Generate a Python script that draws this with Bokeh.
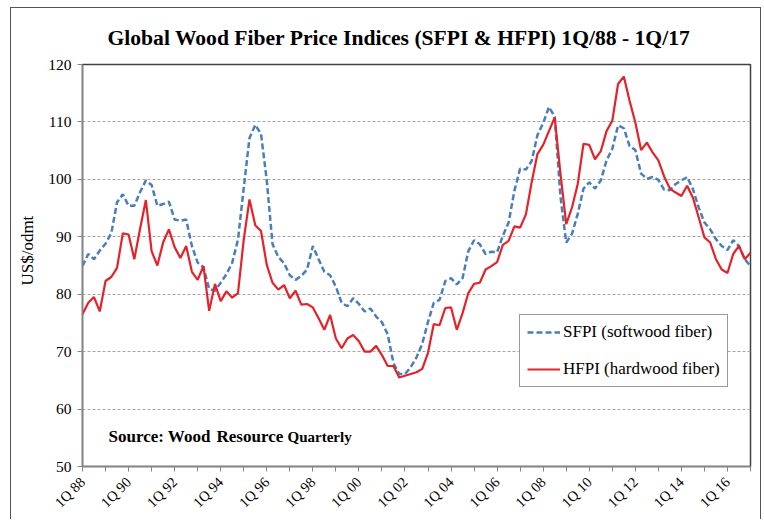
import math
from bokeh.plotting import figure
from bokeh.models import Range1d, FixedTicker, Legend, LegendItem, Label
from bokeh.embed import file_html
from bokeh.resources import INLINE

# quarter index 0 = 1Q88 ... 116 = 1Q17
quarters = list(range(117))

sfpi = [84.9, 87.0, 86.1, 87.6, 88.8, 90.6, 96.0, 97.4, 95.4, 95.4,
        97.8, 99.8, 99.0, 95.4, 95.7, 96.1, 93.0, 92.8, 93.0, 88.4,
        85.5, 84.7, 80.9, 80.6, 82.0, 83.5, 85.5, 89.5, 98.5, 107.2,
        109.5, 107.9, 99.8, 88.7, 86.5, 85.4, 83.3, 82.5, 83.2, 84.3,
        88.4, 86.1, 83.9, 83.3, 81.3, 78.5, 77.9, 79.3, 78.3, 77.0,
        77.5, 76.1, 75.1, 73.0, 68.0, 66.1, 66.1, 67.3, 69.0, 71.4,
        75.2, 78.5, 79.0, 82.3, 82.8, 81.7, 82.8, 87.5, 89.4, 88.7,
        87.0, 87.4, 87.3, 90.2, 92.5, 98.0, 101.9, 101.7, 103.2, 107.7,
        109.8, 112.6, 110.9, 97.0, 89.0, 90.5, 94.0, 98.4, 99.5, 98.4,
        99.8, 103.3, 105.3, 109.4, 108.9, 105.8, 105.1, 101.0, 100.1, 100.4,
        99.9, 98.2, 98.1, 99.2, 99.8, 100.4, 98.3, 95.1, 92.5, 91.3,
        89.6, 88.4, 87.7, 89.4, 88.4, 86.1, 84.9]

hfpi = [76.5, 78.5, 79.5, 77.0, 82.3, 83.0, 84.6, 90.6, 90.4, 86.1,
        91.4, 96.4, 87.5, 85.0, 89.0, 91.3, 88.2, 86.3, 88.4, 83.9,
        82.5, 84.9, 77.1, 81.8, 78.8, 80.5, 79.4, 80.2, 89.5, 96.5,
        92.0, 91.0, 85.1, 82.0, 80.8, 81.6, 79.3, 80.6, 78.2, 78.3,
        77.7, 75.8, 73.8, 76.4, 72.3, 70.6, 72.3, 72.9, 71.8, 70.0,
        70.0, 71.0, 69.4, 67.5, 67.5, 65.5, 65.8, 66.1, 66.4, 67.0,
        69.8, 74.8, 74.6, 77.6, 77.7, 73.8, 76.7, 80.2, 81.8, 82.0,
        84.3, 84.9, 85.6, 88.6, 89.3, 91.8, 91.6, 93.9, 99.5, 104.4,
        106.0, 108.4, 110.8, 101.0, 92.2, 95.1, 99.2, 106.2, 106.0, 103.5,
        104.9, 108.4, 110.2, 116.6, 117.9, 113.7, 109.9, 105.1, 106.4, 104.7,
        103.3, 100.5, 98.4, 97.7, 97.1, 98.9, 96.8, 93.4, 89.9, 89.0,
        86.1, 84.3, 83.7, 87.0, 88.4, 86.1, 87.2]

year_ticks = list(range(0, 117, 4))
tick_labels = ["1Q 88", "1Q 90", "1Q 92", "1Q 94", "1Q 96", "1Q 98", "1Q 00",
               "1Q 02", "1Q 04", "1Q 06", "1Q 08", "1Q 10", "1Q 12", "1Q 14", "1Q 16"]
y_ticks = [50, 60, 70, 80, 90, 100, 110, 120]

SERIF = "Liberation Serif"

p = figure(width=751, height=512, output_backend="svg", toolbar_location=None,
           x_range=Range1d(0, 116), y_range=Range1d(50, 120),
           min_border_left=71, min_border_right=12, min_border_top=56, min_border_bottom=54)
p.styles = {"margin-left": "10px", "margin-top": "7px",
            "border-top": "1px solid #555555", "border-left": "1px solid #555555",
            "border-right": "1px solid #555555"}

p.title.text = "Global Wood Fiber Price Indices (SFPI & HFPI) 1Q/88 - 1Q/17"
p.title.text_font = SERIF
p.title.text_font_size = "21.6px"
p.title.text_font_style = "bold"
p.title.align = "left"
p.title.offset = 25
p.title.standoff = 28
p.title.vertical_align = "middle"
p.title.text_color = "#000000"

p.outline_line_color = "#404040"
p.outline_line_width = 1.5

# axes
overrides = {t: "" for t in year_ticks}
for i, lab in enumerate(tick_labels):
    overrides[i * 8] = lab
p.xaxis.ticker = FixedTicker(ticks=year_ticks)
p.xaxis.major_label_overrides = overrides
p.xaxis.major_label_orientation = math.pi / 4
p.yaxis.ticker = FixedTicker(ticks=y_ticks)
for ax in (p.xaxis[0], p.yaxis[0]):
    ax.major_label_text_font = SERIF
    ax.major_label_text_color = "#000000"
    ax.axis_line_color = "#868686"
    ax.axis_line_width = 1.5
    ax.major_tick_line_color = "#868686"
    ax.major_tick_out = 5
    ax.major_tick_in = 0
    ax.minor_tick_line_color = None
p.xaxis.major_label_text_font_size = "14.5px"
p.xaxis.major_label_standoff = 8
p.yaxis.major_label_text_font_size = "15.5px"
p.yaxis.major_label_standoff = 6

# leading no-break spaces lift the rotated title a little above the frame centre
p.yaxis.axis_label = "\u00a0" * 7 + "US$/odmt"
p.yaxis.axis_label_text_font = SERIF
p.yaxis.axis_label_text_font_size = "17px"
p.yaxis.axis_label_text_font_style = "normal"
p.yaxis.axis_label_text_color = "#000000"
p.yaxis.axis_label_standoff = 8

p.xgrid.grid_line_color = None
p.ygrid.grid_line_color = "#A6A6A6"
p.ygrid.grid_line_dash = "3 2"
p.ygrid.grid_line_width = 1

r_s = p.line(quarters, sfpi, line_color="#4A7EBB", line_width=2.5, line_dash="6 3")
r_h = p.line(quarters, hfpi, line_color="#E3222A", line_width=2.2)

legend = Legend(items=[LegendItem(label="SFPI (softwood fiber)", renderers=[r_s]),
                       LegendItem(label="HFPI (hardwood fiber)", renderers=[r_h])],
                location=(437, 79), orientation="vertical",
                label_text_font=SERIF, label_text_font_size="17px",
                label_text_color="#000000",
                glyph_width=33, glyph_height=20, label_height=20,
                label_standoff=3, spacing=17, padding=7, margin=0,
                border_line_color="#333333", border_line_width=1,
                background_fill_alpha=1.0)
p.add_layout(legend)

for txt, off, size in [("Source: Wood", 26, "17px"), ("Resource", 134, "17px"),
                       ("Quarterly", 205, "15px")]:
    p.add_layout(Label(x=0, y=55.2, x_offset=off, text=txt, text_font=SERIF,
                       text_font_size=size, text_font_style="bold",
                       text_color="#000000", text_baseline="alphabetic"))

open("out.html", "w").write(file_html(p, INLINE))
